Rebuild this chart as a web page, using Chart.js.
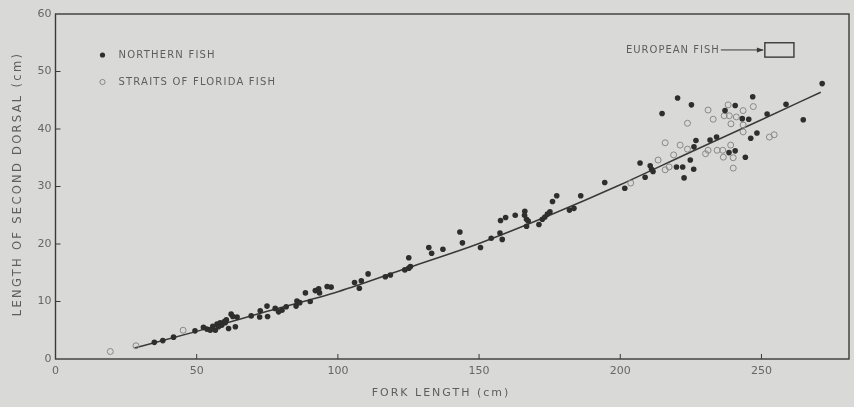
<!DOCTYPE html>
<html>
<head>
<meta charset="utf-8">
<script src="https://cdn.jsdelivr.net/npm/chart.js@4.4.1/dist/chart.umd.min.js"></script>
<style>
  html, body { margin: 0; padding: 0; background: #d9d9d7; }
  #wrap { width: 854px; height: 407px; }
</style>
</head>
<body>
<div id="wrap"><canvas id="fishChart" width="854" height="407"></canvas></div>
<script>
// fork length (cm) vs length of second dorsal (cm)
const northernFish = [
  [35.0, 2.9], [38.0, 3.2], [41.8, 3.8], [49.4, 4.9], [52.4, 5.5], [53.6, 5.2], [54.8, 5.0],
  [55.7, 5.7], [56.6, 5.0], [57.2, 6.1], [57.7, 5.6], [58.3, 6.3], [58.9, 5.9], [59.8, 6.5],
  [60.1, 6.3], [60.5, 6.8], [61.3, 5.3], [62.2, 7.8], [62.8, 7.4], [63.7, 5.6], [64.3, 7.3],
  [69.3, 7.5], [72.5, 8.4], [72.3, 7.3], [74.9, 9.2], [75.1, 7.4], [77.8, 8.8], [79.0, 8.2],
  [80.2, 8.5], [81.7, 9.1], [85.2, 9.2], [85.5, 10.1], [86.5, 9.8], [88.5, 11.5], [90.2, 10.0],
  [92.0, 11.9], [93.2, 12.2], [93.5, 11.5], [96.2, 12.6], [97.6, 12.5], [105.9, 13.3],
  [107.6, 12.3], [108.3, 13.6], [110.7, 14.8], [116.8, 14.3], [118.6, 14.6], [123.7, 15.5],
  [125.1, 15.8], [125.7, 16.1], [125.1, 17.6], [132.2, 19.4], [133.2, 18.4], [137.2, 19.1],
  [143.2, 22.1], [144.1, 20.2], [150.5, 19.4], [154.3, 21.0], [157.4, 21.9], [158.2, 20.8],
  [157.6, 24.1], [159.4, 24.6], [162.8, 25.0], [166.2, 25.7], [166.1, 25.0], [166.8, 24.3],
  [167.4, 24.0], [166.8, 23.1], [171.2, 23.4], [172.4, 24.3], [173.3, 24.7], [174.2, 25.2],
  [175.1, 25.6], [176.0, 27.4], [177.5, 28.4], [182.0, 25.9], [183.6, 26.2], [186.0, 28.4],
  [194.5, 30.7], [201.6, 29.7], [207.0, 34.1], [208.8, 31.6], [210.6, 33.6], [211.1, 33.0],
  [211.6, 32.6], [214.8, 42.7], [220.3, 45.4], [219.9, 33.4], [222.1, 33.4], [222.6, 31.5],
  [224.8, 34.6], [226.0, 33.0], [225.2, 44.2], [226.8, 38.0], [226.1, 36.9], [231.8, 38.1],
  [234.1, 38.6], [237.1, 43.2], [240.7, 44.1], [238.5, 35.9], [240.7, 36.2], [244.3, 35.1],
  [243.2, 41.8], [245.5, 41.7], [246.2, 38.4], [248.4, 39.3], [246.9, 45.6], [252.0, 42.6],
  [258.7, 44.3], [264.8, 41.6], [271.5, 47.9]
];
const floridaFish = [
  [19.4, 1.3], [28.5, 2.3], [45.2, 5.0],
  [203.7, 30.6], [215.9, 32.9], [217.3, 33.4], [213.4, 34.6], [215.9, 37.6], [221.2, 37.2],
  [218.9, 35.5], [223.8, 36.5], [223.8, 41.0], [231.1, 43.3], [232.9, 41.7], [231.1, 36.3],
  [230.2, 35.7], [234.3, 36.3], [236.3, 36.3], [236.5, 35.1], [239.1, 37.2], [240.0, 35.0],
  [240.0, 33.2], [238.2, 44.2], [236.8, 42.3], [238.6, 42.3], [239.2, 40.9], [241.1, 42.1],
  [243.5, 43.2], [243.5, 40.7], [243.5, 39.5], [247.1, 43.9], [252.8, 38.6], [254.5, 39.0]
];
const fitX = [28, 50, 75, 100, 125, 150, 175, 200, 225, 250, 271];
const fitY = [1.9, 4.8, 8.3, 11.7, 15.9, 20.1, 25.0, 30.3, 36.0, 41.6, 46.4];
const xTicks = [0, 50, 100, 150, 200, 250];
const yTicks = [0, 10, 20, 30, 40, 50, 60];
// outline of the "European fish" range box (x from/to, y from/to)
const europeanBox = [251.2, 261.5, 52.5, 55.0];

const inkColor = '#3a3a3a';
const textColor = '#5e5e5e';

function pairsToPoints(list) {
  return list.map(p => ({ x: p[0], y: p[1] }));
}

const frame = {
  id: 'frame',
  afterDraw(chart) {
    const ctx = chart.ctx;
    const area = chart.chartArea;
    const xs = chart.scales.x, ys = chart.scales.y;
    ctx.save();
    ctx.strokeStyle = inkColor;
    ctx.lineWidth = 1.4;
    ctx.strokeRect(area.left, area.top, area.right - area.left, area.bottom - area.top);

    // inward tick marks
    ctx.lineWidth = 1;
    ctx.beginPath();
    xTicks.slice(1).forEach(v => {
      const px = xs.getPixelForValue(v);
      ctx.moveTo(px, area.bottom);
      ctx.lineTo(px, area.bottom - 5);
    });
    yTicks.slice(1, -1).forEach(v => {
      const py = ys.getPixelForValue(v);
      ctx.moveTo(area.left, py);
      ctx.lineTo(area.left + 5, py);
    });
    ctx.stroke();

    // legend
    ctx.font = '10px "DejaVu Sans"';
    ctx.letterSpacing = '1.2px';
    ctx.fillStyle = textColor;
    ctx.textBaseline = 'middle';
    const lx = area.left + 47;
    ctx.fillText('NORTHERN FISH', lx + 16, area.top + 41);
    ctx.fillText('STRAITS OF FLORIDA FISH', lx + 16, area.top + 68);
    ctx.beginPath();
    ctx.arc(lx, area.top + 41, 2.6, 0, Math.PI * 2);
    ctx.fillStyle = '#2e2e2e';
    ctx.fill();
    ctx.beginPath();
    ctx.arc(lx, area.top + 68, 2.6, 0, Math.PI * 2);
    ctx.strokeStyle = '#888';
    ctx.lineWidth = 1;
    ctx.stroke();

    // European fish box with arrow
    const bx0 = xs.getPixelForValue(europeanBox[0]);
    const bx1 = xs.getPixelForValue(europeanBox[1]);
    const by0 = ys.getPixelForValue(europeanBox[3]);
    const by1 = ys.getPixelForValue(europeanBox[2]);
    ctx.strokeStyle = inkColor;
    ctx.lineWidth = 1.4;
    ctx.strokeRect(bx0, by0, bx1 - bx0, by1 - by0);
    const my = (by0 + by1) / 2;
    ctx.fillStyle = textColor;
    ctx.letterSpacing = '1px';
    ctx.textAlign = 'right';
    ctx.fillText('EUROPEAN FISH', bx0 - 45, my);
    ctx.lineWidth = 1;
    ctx.beginPath();
    ctx.moveTo(bx0 - 44, my);
    ctx.lineTo(bx0 - 2, my);
    ctx.stroke();
    ctx.beginPath();
    ctx.moveTo(bx0 - 1, my);
    ctx.lineTo(bx0 - 8, my - 2.5);
    ctx.lineTo(bx0 - 8, my + 2.5);
    ctx.closePath();
    ctx.fillStyle = inkColor;
    ctx.fill();

    // axis titles
    ctx.fillStyle = textColor;
    ctx.font = '11px "DejaVu Sans"';
    ctx.letterSpacing = '2px';
    ctx.textAlign = 'center';
    ctx.fillText('FORK LENGTH (cm)', 441, 393);
    ctx.save();
    ctx.translate(18, 184);
    ctx.rotate(-Math.PI / 2);
    ctx.font = '11.5px "DejaVu Sans"';
    ctx.letterSpacing = '2.3px';
    ctx.fillText('LENGTH OF SECOND DORSAL (cm)', 0, 0);
    ctx.restore();
    ctx.restore();
  }
};

const chart = new Chart(document.getElementById('fishChart').getContext('2d'), {
  type: 'scatter',
  data: {
    datasets: [
      {
        label: 'Northern fish',
        data: pairsToPoints(northernFish),
        pointRadius: 2.8,
        pointBackgroundColor: '#2e2e2e',
        pointBorderWidth: 0,
        order: 1
      },
      {
        label: 'Straits of Florida fish',
        data: pairsToPoints(floridaFish),
        pointRadius: 3,
        pointBackgroundColor: 'rgba(0,0,0,0)',
        pointBorderColor: '#888',
        pointBorderWidth: 1,
        order: 2
      },
      {
        type: 'line',
        label: 'Fit',
        data: fitX.map((x, i) => ({ x: x, y: fitY[i] })),
        borderColor: inkColor,
        borderWidth: 1.5,
        pointRadius: 0,
        cubicInterpolationMode: 'monotone',
        fill: false,
        order: 3
      }
    ]
  },
  options: {
    responsive: false,
    animation: false,
    devicePixelRatio: 1,
    layout: { padding: { top: 14, right: 5, left: 0, bottom: 0 } },
    plugins: {
      legend: { display: false },
      tooltip: { enabled: false }
    },
    scales: {
      x: {
        type: 'linear',
        min: 0,
        max: 281,
        grid: { display: false, drawTicks: false },
        border: { display: false },
        afterBuildTicks: s => { s.ticks = xTicks.map(v => ({ value: v })); },
        afterFit: s => { s.height = 48; },
        ticks: {
          padding: 6,
          color: '#666',
          font: { family: 'DejaVu Sans', size: 11 },
          maxRotation: 0
        }
      },
      y: {
        type: 'linear',
        min: 0,
        max: 60,
        grid: { display: false, drawTicks: false },
        border: { display: false },
        afterBuildTicks: s => { s.ticks = yTicks.map(v => ({ value: v })); },
        afterFit: s => { s.width = 55.5; },
        ticks: {
          padding: 4,
          color: '#666',
          font: { family: 'DejaVu Sans', size: 11 }
        }
      }
    }
  },
  plugins: [frame]
});
</script>
</body>
</html>
